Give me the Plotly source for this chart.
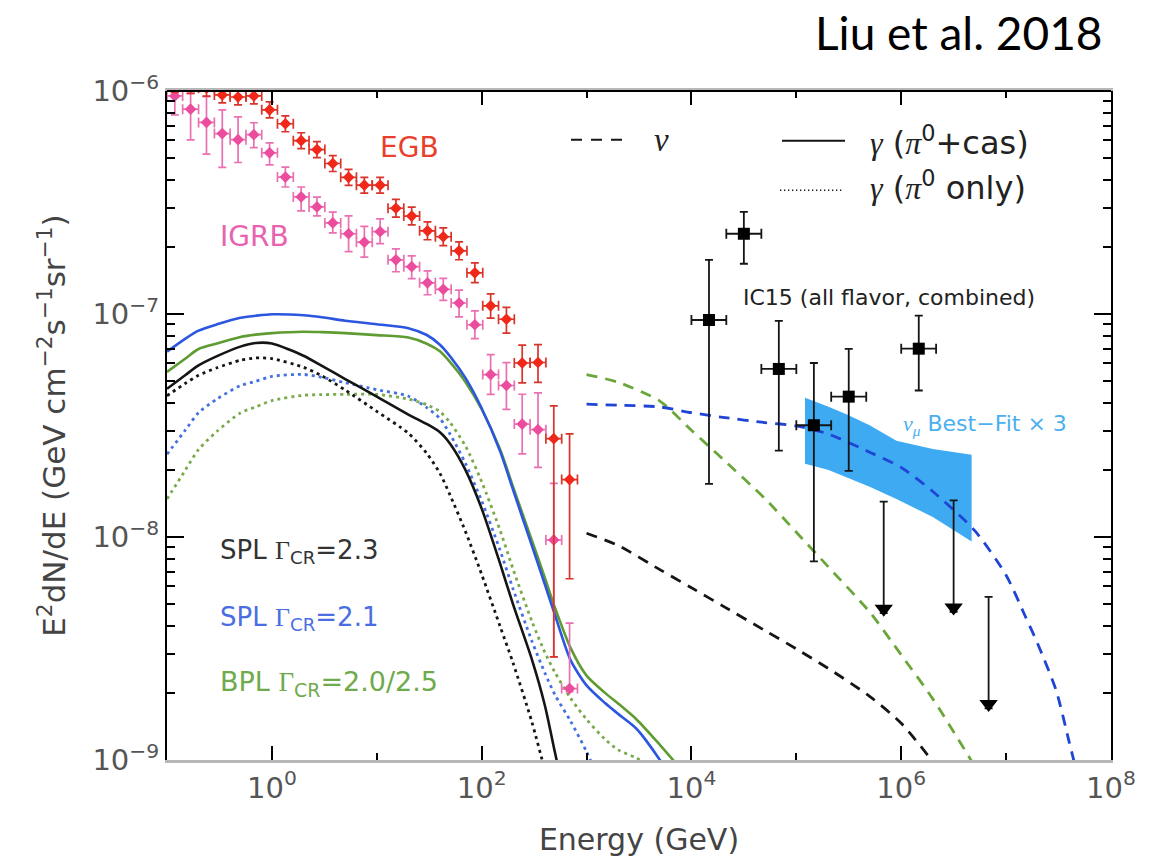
import numpy as np
import plotly.graph_objects as go

# ---------------- data ----------------
# Fermi-LAT energy bin edges (GeV), 26 bins
fermi_edges = [0.1, 0.141, 0.2, 0.283, 0.4, 0.566, 0.8, 1.13, 1.6, 2.26, 3.2, 4.53, 6.4,
               9.05, 12.8, 18.1, 25.6, 36.2, 51.2, 72.4, 102.4, 144.8, 204.8, 289.6,
               409.6, 579.2, 819.2]

# EGB (red)
egb_val = [1.07e-6, 1.06e-6, 1.03e-6, 9.60e-7, 9.40e-7, 9.50e-7, 8.23e-7, 7.13e-7, 5.99e-7,
           5.46e-7, 4.73e-7, 4.10e-7, 3.78e-7, 3.78e-7, 2.98e-7, 2.75e-7, 2.36e-7, 2.22e-7,
           1.92e-7, 1.53e-7, 1.088e-7, 9.47e-8, 6.03e-8, 6.06e-8, 2.76e-8, 1.81e-8]
egb_up = [0.085] * 14 + [0.097] * 5 + [0.108, 0.131, 0.131, 0.202, 0.202, 0.403, 0.602]
egb_dn = [0.079] * 14 + [0.088] * 5 + [0.097, 0.120, 0.134, 0.185, 0.185, 0.895, 0.641]

# IGRB (pink)
igrb_val = [9.50e-7, 8.29e-7, 7.23e-7, 6.44e-7, 6.05e-7, 6.37e-7, 5.28e-7, 4.11e-7, 3.35e-7,
            3.02e-7, 2.56e-7, 2.29e-7, 2.10e-7, 2.34e-7, 1.75e-7, 1.63e-7, 1.38e-7, 1.29e-7,
            1.12e-7, 8.95e-8, 5.35e-8, 4.78e-8, 3.21e-8, 3.03e-8, 9.70e-9, 2.09e-9]
igrb_up = [0.042, 0.178, 0.305, 0.279, 0.266, 0.131, 0.108, 0.108, 0.108, 0.108, 0.119, 0.202,
           0.178, 0.142, 0.119, 0.119, 0.131, 0.119, 0.142, 0.154, 0.228, 0.266, 0.360, 0.461,
           0.795, 0.966]
igrb_dn = [0.177, 0.272, 0.279, 0.294, 0.210, 0.125, 0.116, 0.097, 0.134, 0.088, 0.097, 0.168,
           0.143, 0.116, 0.116, 0.116, 0.116, 0.107, 0.134, 0.134, 0.185, 0.218, 0.265, 0.323,
           0.701, 0.030]

# model gamma-ray curves (GeV, GeV cm^-2 s^-1 sr^-1)
E_gam = [0.1, 0.15, 0.2, 0.3, 0.5, 0.7, 1, 2, 3, 5, 10, 20, 30, 40, 50, 70, 100, 150, 200,
         300, 400, 500, 700, 1000, 1500, 2000, 3000, 5000, 7000]
blue_solid = [6.78e-8, 7.76e-8, 8.42e-8, 8.99e-8, 9.62e-8, 9.82e-8, 9.97e-8, 9.87e-8, 9.67e-8,
              9.33e-8, 9.00e-8, 8.64e-8, 8.05e-8, 7.28e-8, 6.46e-8, 5.17e-8, 3.78e-8, 2.42e-8,
              1.62e-8, 9.19e-9, 6.14e-9, 4.47e-9, 2.82e-9, 2.16e-9, 1.80e-9, 1.61e-9, 1.38e-9,
              1.00e-9, 7.59e-10]
green_solid = [5.50e-8, 6.32e-8, 6.97e-8, 7.37e-8, 7.88e-8, 8.08e-8, 8.21e-8, 8.33e-8, 8.29e-8,
               8.21e-8, 8.04e-8, 7.84e-8, 7.36e-8, 6.80e-8, 6.08e-8, 4.96e-8, 3.74e-8, 2.47e-8,
               1.67e-8, 9.70e-9, 6.57e-9, 4.82e-9, 3.20e-9, 2.39e-9, 2.00e-9, 1.79e-9, 1.52e-9,
               1.17e-9, 9.75e-10]
black_solid = [4.62e-8, 5.33e-8, 5.88e-8, 6.47e-8, 7.14e-8, 7.41e-8, 7.37e-8, 6.50e-8, 5.85e-8,
               5.11e-8, 4.26e-8, 3.54e-8, 3.21e-8, 2.95e-8, 2.62e-8, 2.00e-8, 1.34e-8, 7.59e-9,
               4.96e-9, 2.84e-9, 1.76e-9, 1.08e-9, 5.19e-10]
black_dot = [4.30e-8, 4.89e-8, 5.31e-8, 5.74e-8, 6.20e-8, 6.35e-8, 6.31e-8, 5.77e-8, 5.28e-8,
             4.56e-8, 3.66e-8, 2.92e-8, 2.37e-8, 1.93e-8, 1.54e-8, 1.06e-8, 6.80e-9, 3.97e-9,
             2.71e-9, 1.49e-9, 9.04e-10, 6.31e-10]
blue_dot = [2.35e-8, 3.02e-8, 3.61e-8, 4.16e-8, 4.77e-8, 4.99e-8, 5.25e-8, 5.36e-8, 5.20e-8,
            4.92e-8, 4.58e-8, 4.28e-8, 3.80e-8, 3.40e-8, 2.89e-8, 2.14e-8, 1.45e-8, 8.70e-9,
            5.82e-9, 3.43e-9, 2.46e-9, 1.96e-9, 1.50e-9, 1.09e-9, 6.99e-10]
green_dot = [1.48e-8, 2.00e-8, 2.47e-8, 2.98e-8, 3.60e-8, 3.83e-8, 4.09e-8, 4.32e-8, 4.35e-8,
             4.36e-8, 4.36e-8, 4.15e-8, 3.92e-8, 3.65e-8, 3.26e-8, 2.56e-8, 1.77e-8, 1.07e-8,
             7.14e-9, 4.21e-9, 3.04e-9, 2.47e-9, 1.90e-9, 1.52e-9, 1.24e-9, 1.11e-9, 1.02e-9,
             8.85e-10]

# model neutrino curves
E_nu = [1e3, 2e3, 5e3, 1e4, 2e4, 5e4, 1e5, 2e5, 5e5, 1e6, 2e6, 5e6, 1e7, 1.5e7, 2e7, 3e7, 4e7, 5e7]
blue_nu = [3.94e-8, 3.90e-8, 3.83e-8, 3.61e-8, 3.44e-8, 3.26e-8, 3.15e-8, 2.90e-8, 2.40e-8,
           2.05e-8, 1.60e-8, 1.07e-8, 6.74e-9, 4.48e-9, 3.32e-9, 2.05e-9, 1.20e-9, 7.91e-10]
green_nu = [5.35e-8, 4.94e-8, 4.07e-8, 3.01e-8, 2.23e-8, 1.49e-8, 1.05e-8, 7.38e-9, 4.61e-9,
            2.96e-9, 1.88e-9, 9.41e-10]
black_nu = [1.04e-8, 9.16e-9, 7.14e-9, 5.92e-9, 4.90e-9, 3.81e-9, 3.15e-9, 2.58e-9, 1.93e-9,
            1.46e-9, 9.81e-10, 5.14e-10]

# IceCube combined (IC15)
ic_E = [1.47e4, 3.16e4, 6.81e4, 1.47e5, 3.16e5, 1.47e6]
ic_Elo = [1.0e4, 2.15e4, 4.64e4, 1.0e5, 2.15e5, 1.0e6]
ic_Ehi = [2.15e4, 4.64e4, 1.0e5, 2.15e5, 4.64e5, 2.15e6]
ic_val = [9.40e-8, 2.29e-7, 5.67e-8, 3.17e-8, 4.26e-8, 6.99e-8]
ic_hi = [1.75e-7, 2.87e-7, 9.31e-8, 6.03e-8, 6.97e-8, 9.84e-8]
ic_lo = [1.73e-8, 1.68e-7, 2.44e-8, 7.77e-9, 1.98e-8, 4.54e-8]
ul_E = [6.81e5, 3.16e6, 6.81e6]
ul_val = [1.44e-8, 1.46e-8, 5.39e-9]

# IceCube nu_mu best fit x3 band
band_E = [1.21e5, 2e5, 3e5, 5e5, 9e5, 2e6, 4.69e6]
band_hi = [4.21e-8, 3.85e-8, 3.55e-8, 3.17e-8, 2.70e-8, 2.48e-8, 2.34e-8]
band_lo = [2.13e-8, 2.00e-8, 1.86e-8, 1.68e-8, 1.48e-8, 1.23e-8, 9.54e-9]

x_tickvals = [1, 1e2, 1e4, 1e6, 1e8]
x_ticktext = ['10<sup>0</sup>', '10<sup>2</sup>', '10<sup>4</sup>', '10<sup>6</sup>', '10<sup>8</sup>']
y_tickvals = [1e-9, 1e-8, 1e-7, 1e-6]
y_ticktext = ['10<sup>\u22129</sup>', '10<sup>\u22128</sup>', '10<sup>\u22127</sup>', '10<sup>\u22126</sup>']

# ---------------- styles ----------------
BLACK = '#151515'
BLUE = '#2c56e0'
BLUE_NU = '#1f44d6'
GREEN = '#5e9b31'
GREEN_NU = '#6aa63a'
BLUE_DOT = '#4470e0'
GREEN_DOT = '#7aaa4c'
RED = '#f0281a'
RED_ERR = '#d8342a'
PINK = '#ec4c9e'
PINK_ERR = '#ea70b2'
BAND = '#3eaaf2'
DOT = '3px,4px'
DASH = '11px,8px'
ARROW_DEC = 0.5

fig = go.Figure()

# band
fig.add_trace(go.Scatter(x=band_E + band_E[::-1], y=band_hi + band_lo[::-1], mode='lines',
                         fill='toself', fillcolor=BAND, line=dict(width=0, color=BAND),
                         showlegend=False, hoverinfo='skip'))


def add_curve(E, v, color, dash, width=2.6):
    fig.add_trace(go.Scatter(x=E[:len(v)], y=v, mode='lines',
                             line=dict(color=color, dash=dash, width=width, shape='spline',
                                       smoothing=0.7),
                             showlegend=False, hoverinfo='skip'))


add_curve(E_gam, green_dot, GREEN_DOT, DOT, 2.8)
add_curve(E_gam, blue_dot, BLUE_DOT, DOT, 2.8)
add_curve(E_gam, black_dot, BLACK, DOT, 2.8)
add_curve(E_gam, black_solid, BLACK, 'solid')
add_curve(E_gam, green_solid, GREEN, 'solid')
add_curve(E_gam, blue_solid, BLUE, 'solid')
add_curve(E_nu, black_nu, BLACK, DASH, 2.8)
add_curve(E_nu, green_nu, GREEN_NU, DASH, 2.8)
add_curve(E_nu, blue_nu, BLUE_NU, DASH, 2.8)

# Fermi data
lo = np.array(fermi_edges[:-1])
hi = np.array(fermi_edges[1:])
ec = np.sqrt(lo * hi)


def add_fermi(val, up, dn, mcol, ecol):
    v = np.array(val)
    fig.add_trace(go.Scatter(
        x=ec, y=v, mode='markers',
        marker=dict(symbol='diamond', size=9, color=mcol),
        error_y=dict(type='data', symmetric=False, array=v * np.array(up),
                     arrayminus=v * np.array(dn), color=ecol, thickness=1.7, width=4),
        error_x=dict(type='data', symmetric=False, array=hi - ec, arrayminus=ec - lo,
                     color=ecol, thickness=1.7, width=5),
        showlegend=False, hoverinfo='skip'))


add_fermi(igrb_val, igrb_up, igrb_dn, PINK, PINK_ERR)
add_fermi(egb_val, egb_up, egb_dn, RED, RED_ERR)

# IceCube points
icE = np.array(ic_E)
icv = np.array(ic_val)
fig.add_trace(go.Scatter(
    x=icE, y=icv, mode='markers',
    marker=dict(symbol='square', size=12, color='black'),
    error_y=dict(type='data', symmetric=False, array=np.array(ic_hi) - icv,
                 arrayminus=icv - np.array(ic_lo), color=BLACK, thickness=1.8, width=4),
    error_x=dict(type='data', symmetric=False, array=np.array(ic_Ehi) - icE,
                 arrayminus=icE - np.array(ic_Elo), color=BLACK, thickness=1.8, width=5),
    showlegend=False, hoverinfo='skip'))

# upper limits
ulv = np.array(ul_val)
tip = ulv / 10 ** ARROW_DEC
fig.add_trace(go.Scatter(
    x=ul_E, y=ulv, mode='markers', marker=dict(size=1, opacity=0),
    error_y=dict(type='data', symmetric=False, array=[0] * len(ul_val), arrayminus=ulv - tip,
                 color=BLACK, thickness=1.8, width=4),
    showlegend=False, hoverinfo='skip'))
fig.add_trace(go.Scatter(
    x=ul_E, y=tip * 10 ** 0.02, mode='markers',
    marker=dict(symbol='triangle-down', size=16, color='black'),
    showlegend=False, hoverinfo='skip'))


def px(xp):
    return (xp - 167) / 944.0


def py(yp):
    return (765 - yp) / 674.0


TXT = 'DejaVu Sans'
GR = "font-family:'Liberation Serif';font-style:italic"
ann = []


def add_text(x, y, text, size, color, xanchor='left', family=TXT):
    ann.append(dict(x=x, y=y, xref='paper', yref='paper', text=text, showarrow=False,
                    xanchor=xanchor, yanchor='middle', font=dict(family=family, size=size, color=color)))


add_text(px(378), py(148), 'EGB', 28, '#e8402c')
add_text(px(218), py(238), 'IGRB', 28, '#e862b0')
gam_sub = '<span style="font-family:\'Liberation Serif\'">\u0393</span><sub>CR</sub>'
add_text(px(218), py(555), 'SPL ' + gam_sub + '=2.3', 26, '#333333')
add_text(px(218), py(622), 'SPL ' + gam_sub + '=2.1', 26, '#4a6ee2')
add_text(px(218), py(688), 'BPL ' + gam_sub + '=2.0/2.5', 27, '#6faa4c')
add_text(px(741), py(299), 'IC15 (all flavor, combined)', 22, '#222222')
add_text(px(901), py(427), '<span style="%s">\u03bd</span><sub><span style="%s">\u03bc</span></sub> Best\u2212Fit \u00d7 3' % (GR, GR), 22, '#4ab0f0')
add_text(px(652), py(140), '<span style="%s">\u03bd</span>' % GR, 33, '#222222')
add_text(px(868), py(141), '<span style="%s">\u03b3</span> (<span style="%s">\u03c0</span><sup>0</sup>+cas)' % (GR, GR), 32, '#222222')
add_text(px(868), py(187), '<span style="%s">\u03b3</span> (<span style="%s">\u03c0</span><sup>0</sup> only)' % (GR, GR), 32, '#222222')
ann.append(dict(x=px(1105), y=py(32), xref='paper', yref='paper', text='Liu et al. 2018',
                showarrow=False, xanchor='right', yanchor='middle',
                font=dict(family='Lato', size=46, color='black')))

shapes = [
    dict(type='line', xref='paper', yref='paper', x0=px(571), x1=px(629), y0=py(140), y1=py(140),
         line=dict(color=BLACK, width=2, dash='11px,9px')),
    dict(type='line', xref='paper', yref='paper', x0=px(782), x1=px(845), y0=py(141), y1=py(141),
         line=dict(color=BLACK, width=2)),
    dict(type='line', xref='paper', yref='paper', x0=px(780), x1=px(842), y0=py(191), y1=py(191),
         line=dict(color=BLACK, width=1.3, dash='1.3px,2.7px')),
    dict(type='line', xref='paper', yref='paper', x0=0, x1=1, y0=1, y1=1,
         line=dict(color='black', width=2)),
]

tickfont = dict(family=TXT, size=29, color='#555555')
yminor = [k * 10.0 ** e for e in (-9, -8, -7) for k in range(2, 10)]

fig.update_layout(
    width=1163, height=864,
    margin=dict(l=167, r=52, t=91, b=99),
    paper_bgcolor='white', plot_bgcolor='white',
    showlegend=False,
    annotations=ann, shapes=shapes,
    xaxis=dict(type='log', range=[-1, 8], tickmode='array', tickvals=x_tickvals,
               ticktext=x_ticktext, ticks='inside', ticklen=14, tickwidth=2, tickcolor='black',
               showline=True, linecolor='#b8b8b8', linewidth=2.5, mirror='ticks',
               showgrid=False, zeroline=False, tickfont=tickfont,
               minor=dict(tickmode='array', tickvals=[10, 1e3, 1e5, 1e7], ticks='inside',
                          ticklen=7, tickwidth=2, tickcolor='black', showgrid=False),
               title=dict(text='Energy (GeV)', font=dict(family=TXT, size=30, color='#444444'),
                          standoff=26)),
    yaxis=dict(type='log', range=[-9, -6], tickmode='array', tickvals=y_tickvals,
               ticktext=y_ticktext, ticks='inside', ticklen=17, tickwidth=2, tickcolor='black',
               showline=True, linecolor='black', linewidth=2, mirror='ticks',
               showgrid=False, zeroline=False, tickfont=tickfont,
               minor=dict(tickmode='array', tickvals=yminor, ticks='inside', ticklen=8,
                          tickwidth=2, tickcolor='black', showgrid=False),
               title=dict(text='E<sup>2</sup>dN/dE (GeV cm<sup>\u22122</sup>s<sup>\u22121</sup>sr<sup>\u22121</sup>)',
                          font=dict(family=TXT, size=31, color='#444444'), standoff=18)),
)

fig.write_html('out.html')
